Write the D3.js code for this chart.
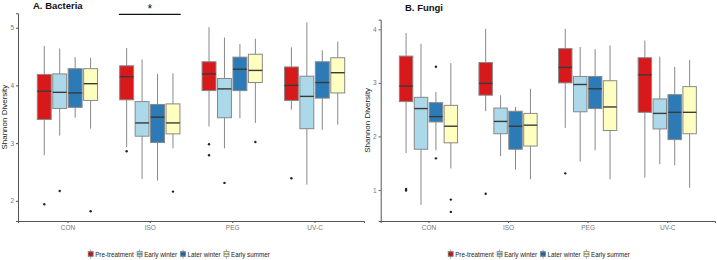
<!DOCTYPE html>
<html>
<head>
<meta charset="utf-8">
<script src="https://d3js.org/d3.v7.min.js"></script>
<style>
  body { margin: 0; background: #fff; }
  text { font-family: "Liberation Sans", Arial, sans-serif; }
</style>
</head>
<body>
<script>
// categories and groups
var treatments = ["CON", "ISO", "PEG", "UV-C"];
var seasons = ["Pre-treatment", "Early winter", "Later winter", "Early summer"];
var colors = ["#d7191c", "#abd9e9", "#2c7bb6", "#ffffbf"];

// box stats: treatment, season, lower whisker, q1, median, q3, upper whisker
var bacteriaBoxes = [
  ["CON", "Pre-treatment", 2.79, 3.41, 3.90, 4.19, 4.68],
  ["CON", "Early winter", 3.13, 3.60, 3.88, 4.20, 4.64],
  ["CON", "Later winter", 3.44, 3.62, 3.87, 4.29, 4.49],
  ["CON", "Early summer", 3.25, 3.74, 4.03, 4.29, 4.48],
  ["ISO", "Pre-treatment", 2.93, 3.75, 4.15, 4.34, 4.65],
  ["ISO", "Early winter", 2.38, 3.12, 3.35, 3.72, 4.45],
  ["ISO", "Later winter", 2.35, 3.01, 3.45, 3.67, 4.20],
  ["ISO", "Early summer", 2.91, 3.16, 3.35, 3.68, 4.21],
  ["PEG", "Pre-treatment", 3.29, 3.91, 4.20, 4.41, 5.01],
  ["PEG", "Early winter", 2.91, 3.44, 3.94, 4.12, 4.83],
  ["PEG", "Later winter", 3.43, 3.91, 4.28, 4.49, 4.72],
  ["PEG", "Early summer", 3.35, 4.05, 4.26, 4.54, 4.81],
  ["UV-C", "Pre-treatment", 3.58, 3.74, 4.00, 4.32, 4.66],
  ["UV-C", "Early winter", 2.28, 3.25, 3.81, 4.16, 5.09],
  ["UV-C", "Later winter", 3.23, 3.78, 4.05, 4.41, 4.61],
  ["UV-C", "Early summer", 3.32, 3.87, 4.22, 4.48, 4.76]
];
var bacteriaOutliers = [
  ["CON", "Pre-treatment", 1.94], ["CON", "Early winter", 2.17], ["CON", "Early summer", 1.82],
  ["ISO", "Pre-treatment", 2.86], ["ISO", "Early summer", 2.16],
  ["PEG", "Pre-treatment", 2.98], ["PEG", "Pre-treatment", 2.79], ["PEG", "Early winter", 2.31],
  ["PEG", "Early summer", 3.02], ["UV-C", "Pre-treatment", 2.39]
];

var fungiBoxes = [
  ["CON", "Pre-treatment", 1.69, 2.65, 2.94, 3.50, 3.93],
  ["CON", "Early winter", 0.72, 1.76, 2.52, 2.73, 3.73],
  ["CON", "Later winter", 1.74, 2.27, 2.37, 2.63, 2.83],
  ["CON", "Early summer", 1.40, 1.88, 2.19, 2.58, 3.37],
  ["ISO", "Pre-treatment", 2.47, 2.77, 2.99, 3.38, 4.01],
  ["ISO", "Early winter", 1.63, 2.05, 2.28, 2.53, 2.77],
  ["ISO", "Later winter", 1.38, 1.76, 2.19, 2.47, 2.55],
  ["ISO", "Early summer", 1.20, 1.82, 2.21, 2.43, 2.89],
  ["PEG", "Pre-treatment", 2.16, 3.00, 3.29, 3.64, 4.01],
  ["PEG", "Early winter", 1.53, 2.46, 2.97, 3.12, 3.67],
  ["PEG", "Later winter", 1.74, 2.52, 2.89, 3.12, 3.63],
  ["PEG", "Early summer", 1.20, 2.11, 2.55, 3.04, 3.70],
  ["UV-C", "Pre-treatment", 1.23, 2.45, 3.15, 3.47, 3.79],
  ["UV-C", "Early winter", 1.48, 2.14, 2.43, 2.70, 3.49],
  ["UV-C", "Later winter", 1.46, 1.94, 2.45, 2.78, 3.30],
  ["UV-C", "Early summer", 1.04, 2.05, 2.45, 2.93, 3.43]
];
var fungiOutliers = [
  ["CON", "Pre-treatment", 1.02], ["CON", "Pre-treatment", 0.99],
  ["CON", "Later winter", 3.30], ["CON", "Later winter", 1.59],
  ["CON", "Early summer", 0.82], ["CON", "Early summer", 0.59],
  ["ISO", "Pre-treatment", 0.93], ["PEG", "Pre-treatment", 1.31]
];

var bacteriaTicks = [2, 3, 4, 5];
var fungiTicks = [1, 2, 3, 4];

var width = 717, height = 260;
var color = d3.scaleOrdinal().domain(seasons).range(colors);

var svg = d3.select("body").append("svg")
  .attr("width", width)
  .attr("height", height);

function panel(opt) {
  var g = svg.append("g");

  var x = d3.scalePoint().domain(treatments)
    .range([opt.left, opt.right]).padding(0.6);
  var y = d3.scaleLinear().domain(opt.domain).range([221, opt.top]);

  var gw = x.step() * 0.75;
  var inner = d3.scaleBand().domain(seasons)
    .range([-gw / 2, gw / 2]).paddingInner(0.1).paddingOuter(0.05);
  var cx = function(t, s) { return x(t) + inner(s) + inner.bandwidth() / 2; };

  // axes
  var yAxis = g.append("g")
    .attr("transform", "translate(" + opt.left + ",0)")
    .call(d3.axisLeft(y).tickValues(opt.ticks).tickFormat(d3.format("d"))
      .tickSize(2).tickPadding(2));
  var xAxis = g.append("g")
    .attr("transform", "translate(0,221)")
    .call(d3.axisBottom(x).tickSize(2).tickPadding(2));
  [yAxis, xAxis].forEach(function(a) {
    a.select(".domain").attr("stroke", "#555").attr("stroke-width", 1);
    a.selectAll(".tick line").attr("stroke", "#555");
    a.selectAll(".tick text").attr("fill", "#777").attr("font-size", 6.5)
      .attr("font-family", "Liberation Sans, Arial, sans-serif");
  });

  // whiskers
  g.selectAll(".whisker").data(opt.boxes).enter().append("line")
    .attr("x1", function(d) { return cx(d[0], d[1]); })
    .attr("x2", function(d) { return cx(d[0], d[1]); })
    .attr("y1", function(d) { return y(d[2]); })
    .attr("y2", function(d) { return y(d[6]); })
    .attr("stroke", "#888").attr("stroke-width", 1);

  // boxes
  g.selectAll(".box").data(opt.boxes).enter().append("rect")
    .attr("x", function(d) { return x(d[0]) + inner(d[1]); })
    .attr("width", inner.bandwidth())
    .attr("y", function(d) { return y(d[5]); })
    .attr("height", function(d) { return y(d[3]) - y(d[5]); })
    .attr("fill", function(d) { return color(d[1]); })
    .attr("stroke", "#888").attr("stroke-width", 1);

  // medians
  g.selectAll(".median").data(opt.boxes).enter().append("line")
    .attr("x1", function(d) { return x(d[0]) + inner(d[1]); })
    .attr("x2", function(d) { return x(d[0]) + inner(d[1]) + inner.bandwidth(); })
    .attr("y1", function(d) { return y(d[4]); })
    .attr("y2", function(d) { return y(d[4]); })
    .attr("stroke", "#3a3a3a").attr("stroke-width", 1.4);

  // outliers
  g.selectAll(".out").data(opt.outliers).enter().append("circle")
    .attr("cx", function(d) { return cx(d[0], d[1]); })
    .attr("cy", function(d) { return y(d[2]); })
    .attr("r", 1.2)
    .attr("fill", "#222");

  // titles
  g.append("text")
    .attr("x", opt.titleX).attr("y", opt.titleY)
    .attr("font-size", 9.5).attr("font-weight", "bold").attr("fill", "#111")
    .text(opt.title);

  g.append("text")
    .attr("transform", "translate(" + (opt.left - 13) + "," + ((221 + opt.top) / 2) + ") rotate(-90)")
    .attr("text-anchor", "middle")
    .attr("dominant-baseline", "middle")
    .attr("font-size", 8).attr("fill", "#222")
    .text("Shannon Diversity");

  // legend, laid out from measured text widths and centred on the panel
  var lg = g.append("g");
  var pos = 0;
  seasons.forEach(function(s) {
    var it = lg.append("g").attr("transform", "translate(" + pos + ",0)");
    it.append("line").attr("x1", 2.5).attr("x2", 2.5).attr("y1", -4.5).attr("y2", 4.5)
      .attr("stroke", "#888").attr("stroke-width", 0.8);
    it.append("rect").attr("x", 0).attr("y", -2.5).attr("width", 5).attr("height", 5)
      .attr("fill", color(s)).attr("stroke", "#888").attr("stroke-width", 0.8);
    it.append("line").attr("x1", 0).attr("x2", 5).attr("y1", 0).attr("y2", 0)
      .attr("stroke", "#3a3a3a").attr("stroke-width", 0.8);
    var t = it.append("text").attr("x", 7).attr("y", 0)
      .attr("dominant-baseline", "central")
      .attr("font-size", 6.3).attr("fill", "#222")
      .text(s);
    pos += 7 + t.node().getComputedTextLength() + 3.5;
  });
  pos -= 3.5;
  lg.attr("transform", "translate(" + (opt.legendCenter - pos / 2) + ",254)");

  return { g: g, x: x, y: y, gw: gw };
}

var pa = panel({
  left: 18, right: 364, top: 13.3, domain: [1.65, 5.25], ticks: bacteriaTicks,
  boxes: bacteriaBoxes, outliers: bacteriaOutliers,
  title: "A. Bacteria", titleX: 33, titleY: 9, legendCenter: 179
});

var pb = panel({
  left: 380.7, right: 715, top: 19.7, domain: [0.42, 4.18], ticks: fungiTicks,
  boxes: fungiBoxes, outliers: fungiOutliers,
  title: "B. Fungi", titleX: 405, titleY: 10.5, legendCenter: 539
});

// significance bar over ISO in bacteria panel
var sx = pa.x("ISO");
pa.g.append("line")
  .attr("x1", sx - pa.gw / 2).attr("x2", sx + pa.gw / 2)
  .attr("y1", pa.y(5.23)).attr("y2", pa.y(5.23))
  .attr("stroke", "#111").attr("stroke-width", 1.2);
pa.g.append("text")
  .attr("x", sx).attr("y", pa.y(5.23) - 1)
  .attr("text-anchor", "middle")
  .attr("font-size", 12).attr("fill", "#111")
  .text("*");
</script>
</body>
</html>
